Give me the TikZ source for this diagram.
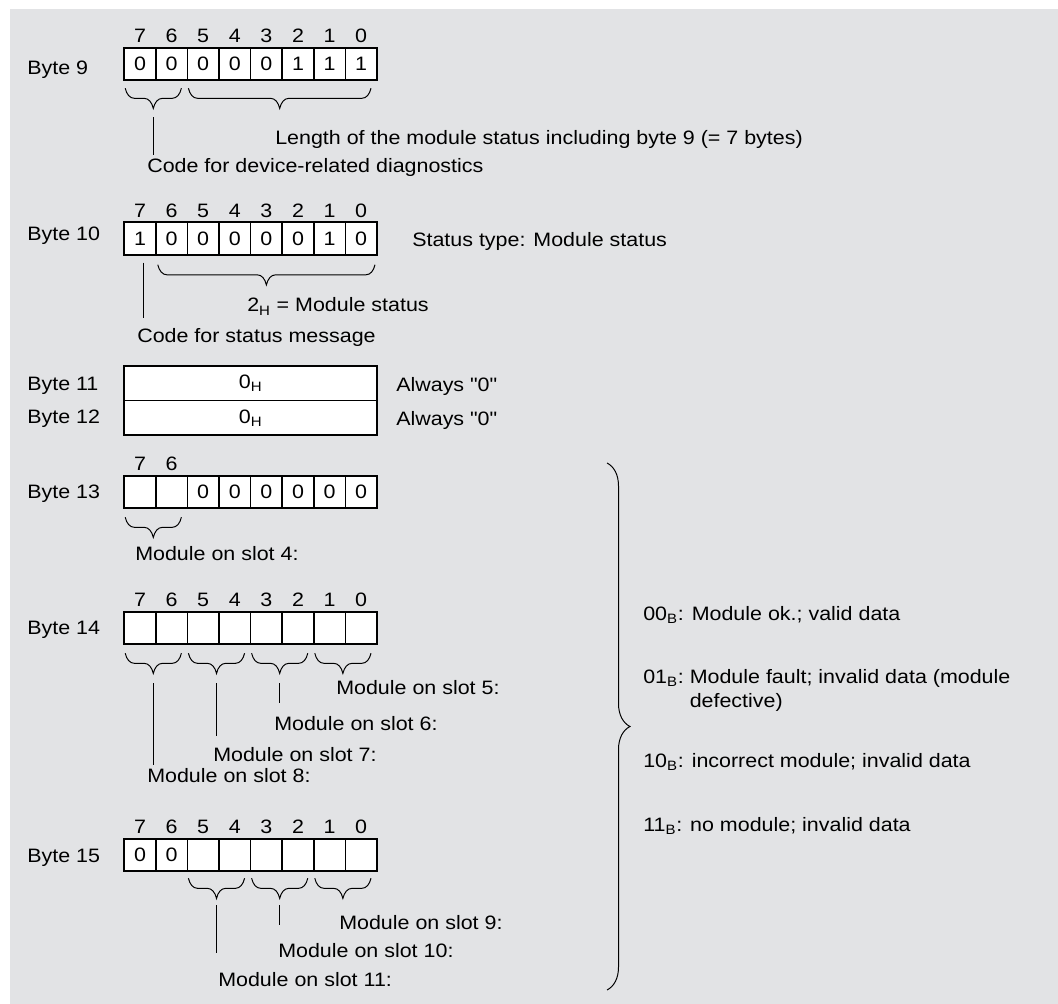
\documentclass[tikz,border=0pt]{standalone}
\usepackage{fontspec}
\setmainfont{Liberation Sans}[FakeStretch=1.105, Ligatures=TeXOff]
\usetikzlibrary{calc, positioning, decorations.pathreplacing}
\definecolor{panelgray}{HTML}{E2E3E5}
\tikzset{
    bitcell/.style={rectangle, draw=black, line width=1.2pt, fill=white,
        minimum width=0.79cm, minimum height=0.81cm, inner sep=0pt, outer sep=0pt},
    wordbox/.style={bitcell, minimum width=6.32cm, minimum height=0.865cm},
    bitnum/.style={anchor=base, inner sep=0pt},
    bytelabel/.style={anchor=base west, inner sep=0pt},
    note/.style={anchor=base west, inner sep=0pt},
    curly/.style={decorate, decoration={brace, amplitude=0.23cm, transform={yscale=-2.2}}, line width=0.7pt},
    bigcurly/.style={decorate, decoration={brace, amplitude=0.575cm}, line width=0.7pt},
    lead/.style={line width=0.7pt},
}

\begin{document}
\begin{tikzpicture}[x=0.025cm, y=-0.025cm, font=\fontsize{13.8}{17.7}\selectfont]
    \useasboundingbox (0,0) rectangle (1058,1004);
    \fill[panelgray] (10,9) rectangle (1058,1004);

    % byte 9
    \node[bytelabel] (lb9) at (27,75) {Byte 9};
    \foreach \v [count=\i from 0] in {0,0,0,0,0,1,1,1} {
        \pgfmathtruncatemacro\bitno{7-\i}
        \node[bitcell] (b9-\bitno) at (140+31.6*\i,64) {\v};
        \node[bitnum] (n9-\bitno) at ($(b9-\bitno.north)+(0,-5)$) {\bitno};
    }
    \draw[curly] ($(b9-7.south west)+(1,8)$) -- ($(b9-6.south east)+(-6,8)$);
    \draw[curly] ($(b9-5.south west)+(1,8)$) -- ($(b9-0.south east)+(-6,8)$);
    \coordinate (k9a) at ($(b9-7.south west)!0.5!(b9-6.south east)+(-2.5,28)$);
    \node[note] (len9) at (275,145) {Length of the module status including byte 9 (= 7 bytes)};
    \node[note] (code9) at (147,173) {Code for device-related diagnostics};
    \draw[lead] ($(k9a)+(0,9)$) -- ($(k9a |- code9.north)+(0,-4)$);

    % byte 10
    \node[bytelabel] (lb10) at (27,241) {Byte 10};
    \foreach \v [count=\i from 0] in {1,0,0,0,0,0,1,0} {
        \pgfmathtruncatemacro\bitno{7-\i}
        \node[bitcell] (b10-\bitno) at (140+31.6*\i,238.5) {\v};
        \node[bitnum] (n10-\bitno) at ($(b10-\bitno.north)+(0,-5)$) {\bitno};
    }
    \draw[curly] ($(b10-6.south west)+(2,10)$) -- ($(b10-0.south east)+(-2,10)$);
    \node[note] (st10) at (412,247) {Status type: Module status};
    \node[note] (val10) at (247,312) {2\textsubscript{H} = Module status};
    \node[note] (code10) at (137,342) {Code for status message};
    \draw[lead] ($(b10-7.south)+(3,8)$) -- ($(b10-7.south |- code10.north)+(3,-10)$);

    % bytes 11 and 12
    \node[bytelabel] (lb11) at (27,390) {Byte 11};
    \node[bytelabel] (lb12) at (27,423) {Byte 12};
    \node[wordbox] (w11) at (250.6,383.3) {0\textsubscript{H}};
    \node[wordbox] (w12) at (250.6,417.9) {0\textsubscript{H}};
    \node[note] (al11) at (396,391) {Always "0"};
    \node[note] (al12) at (396,425) {Always "0"};

    % byte 13
    \node[bytelabel] (lb13) at (27,498) {Byte 13};
    \foreach \v [count=\i from 0] in {{},{},0,0,0,0,0,0} {
        \pgfmathtruncatemacro\bitno{7-\i}
        \node[bitcell] (b13-\bitno) at (140+31.6*\i,492) {\v};
    }
    \foreach \bitno in {7,6}
        \node[bitnum] (n13-\bitno) at ($(b13-\bitno.north)+(0,-5)$) {\bitno};
    \draw[curly] ($(b13-7.south west)+(1,9)$) -- ($(b13-6.south east)+(-6,9)$);
    \node[note] (slot4) at (135,560) {Module on slot 4:};

    % byte 14
    \node[bytelabel] (lb14) at (27,634) {Byte 14};
    \foreach \i in {0,...,7} {
        \pgfmathtruncatemacro\bitno{7-\i}
        \node[bitcell] (b14-\bitno) at (140+31.6*\i,628) {};
        \node[bitnum] (n14-\bitno) at ($(b14-\bitno.north)+(0,-5)$) {\bitno};
    }
    \foreach \hi/\lo/\k in {7/6/a, 5/4/b, 3/2/c, 1/0/d} {
        \draw[curly] ($(b14-\hi.south west)+(1,9)$) -- ($(b14-\lo.south east)+(-6,9)$);
        \coordinate (k14\k) at ($(b14-\hi.south west)!0.5!(b14-\lo.south east)+(-2.5,29)$);
    }
    \node[note] (slot5) at (336,694) {Module on slot 5:};
    \node[note] (slot6) at (274,730) {Module on slot 6:};
    \node[note] (slot7) at (213,761) {Module on slot 7:};
    \node[note] (slot8) at (147,782) {Module on slot 8:};
    \draw[lead] ($(k14a)+(0,10)$) -- ($(k14a |- slot8.north)+(0,-3)$);
    \draw[lead] ($(k14b)+(0,10)$) -- ($(k14b |- slot7.north)+(0,-11)$);
    \draw[lead] ($(k14c)+(0,10)$) -- ($(k14c |- slot6.north)+(0,-13)$);

    % byte 15
    \node[bytelabel] (lb15) at (27,862) {Byte 15};
    \foreach \v [count=\i from 0] in {0,0,{},{},{},{},{},{}} {
        \pgfmathtruncatemacro\bitno{7-\i}
        \node[bitcell] (b15-\bitno) at (140+31.6*\i,855) {\v};
        \node[bitnum] (n15-\bitno) at ($(b15-\bitno.north)+(0,-5)$) {\bitno};
    }
    \foreach \hi/\lo/\k in {5/4/b, 3/2/c, 1/0/d} {
        \draw[curly] ($(b15-\hi.south west)+(1,7)$) -- ($(b15-\lo.south east)+(-6,7)$);
        \coordinate (k15\k) at ($(b15-\hi.south west)!0.5!(b15-\lo.south east)+(-2.5,27)$);
    }
    \node[note] (slot9) at (339,929) {Module on slot 9:};
    \node[note] (slot10) at (278,957) {Module on slot 10:};
    \node[note] (slot11) at (218,986) {Module on slot 11:};
    \draw[lead] ($(k15b)+(0,7)$) -- ($(k15b |- slot11.north)+(0,-19)$);
    \draw[lead] ($(k15c)+(0,7)$) -- ($(k15c |- slot10.north)+(0,-18)$);

    % status codes
    \coordinate (bt) at (607,463);
    \coordinate (bb) at (607,990);
    \draw[bigcurly] (bt) -- (bb);
    \node[note] (c00) at (643,620) {00\textsubscript{B}: Module ok.; valid data};
    \node[note] (c01) at (643,683) {\begin{tabular}[t]{@{}l@{\ }l@{}}01\textsubscript{B}: & Module fault; invalid data (module\\ & defective)\end{tabular}};
    \node[note] (c10) at (643,767) {10\textsubscript{B}: incorrect module; invalid data};
    \node[note] (c11) at (643,831) {11\textsubscript{B}: no module; invalid data};
\end{tikzpicture}
\end{document}
